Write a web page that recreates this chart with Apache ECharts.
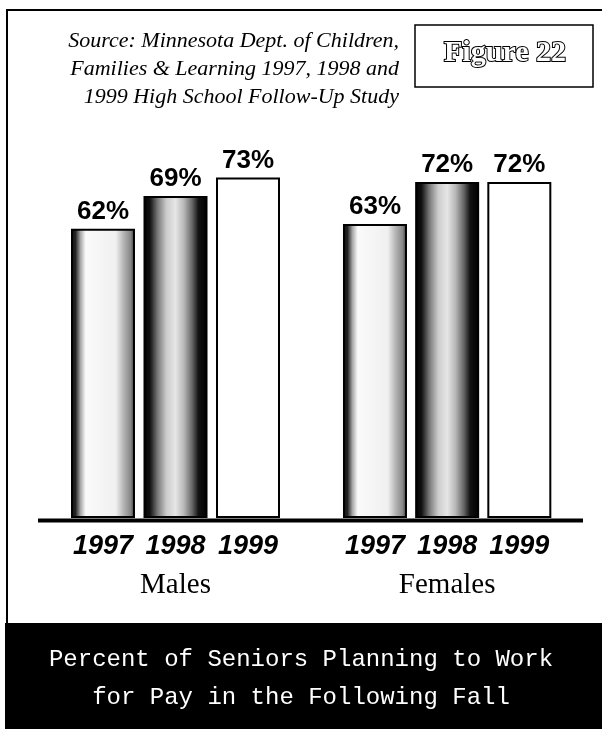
<!DOCTYPE html>
<html>
<head>
<meta charset="utf-8">
<script src="https://cdn.jsdelivr.net/npm/echarts@6/dist/echarts.min.js"></script>
<style>
    html, body { margin: 0; padding: 0; background: #fff; }
    #chart { width: 602px; height: 729px; }
</style>
</head>
<body>
<div id="chart"></div>
<script>
var years = ['1997', '1998', '1999'];
var groups = ['Males', 'Females'];
var males = [62, 69, 73];
var females = [63, 72, 72];
var sourceLines = [
    'Source: Minnesota Dept. of Children,',
    'Families & Learning 1997, 1998 and',
    '1999 High School Follow-Up Study'
];
var figureLabel = 'Figure 22';
var caption = 'Percent of Seniors Planning to Work\nfor Pay in the Following Fall';

// stippled print fills: light, dark, plain white
var fills = [
    new echarts.graphic.LinearGradient(0, 0, 1, 0, [
        {offset: 0, color: '#111'}, {offset: 0.07, color: '#222'},
        {offset: 0.15, color: '#aaa'}, {offset: 0.23, color: '#fafafa'},
        {offset: 0.7, color: '#f0f0f0'}, {offset: 0.82, color: '#b5b5b5'},
        {offset: 0.93, color: '#888'}, {offset: 1, color: '#333'}
    ]),
    new echarts.graphic.LinearGradient(0, 0, 1, 0, [
        {offset: 0, color: '#000'}, {offset: 0.1, color: '#111'},
        {offset: 0.22, color: '#777'}, {offset: 0.36, color: '#ccc'},
        {offset: 0.5, color: '#e6e6e6'}, {offset: 0.63, color: '#b8b8b8'},
        {offset: 0.76, color: '#666'}, {offset: 0.86, color: '#111'},
        {offset: 1, color: '#000'}
    ]),
    '#fff'
];

var barData = function (values) {
    return values.map(function (v, i) {
        return {value: v, itemStyle: {color: fills[i]}};
    });
};

var xAxisFor = function (idx) {
    return {
        type: 'category',
        gridIndex: idx,
        data: years,
        axisLine: {show: false},
        axisTick: {show: false},
        axisLabel: {
            interval: 0,
            margin: 15,
            color: '#000',
            fontFamily: 'Liberation Sans',
            fontWeight: 'bold',
            fontStyle: 'italic',
            fontSize: 27
        },
        name: groups[idx],
        nameLocation: 'middle',
        nameGap: 53,
        nameTextStyle: {
            color: '#000',
            fontFamily: 'Liberation Serif',
            fontSize: 29
        }
    };
};

var yAxisFor = function (idx) {
    return {type: 'value', gridIndex: idx, min: 0, max: 100, show: false};
};

var seriesFor = function (idx, values) {
    return {
        type: 'bar',
        xAxisIndex: idx,
        yAxisIndex: idx,
        barWidth: 64,
        data: barData(values),
        itemStyle: {borderColor: '#000', borderWidth: 2},
        label: {
            show: true,
            position: 'top',
            distance: 4,
            formatter: '{c}%',
            color: '#000',
            fontFamily: 'Liberation Sans',
            fontWeight: 'bold',
            fontSize: 26
        }
    };
};

var drawChart = function () {
    var box = echarts.init(document.getElementById('chart'));
    var option = {
        animation: false,
        backgroundColor: '#fff',
        title: {
            text: caption,
            left: 'center',
            top: 641,
            padding: 0,
            textStyle: {
                color: '#fff',
                fontFamily: 'Liberation Mono',
                fontWeight: 'normal',
                fontSize: 24,
                lineHeight: 38
            }
        },
        grid: [
            {left: 66.75, width: 217.5, top: 51.5, bottom: 211},
            {left: 338.9, width: 216.5, top: 51.5, bottom: 211}
        ],
        xAxis: [xAxisFor(0), xAxisFor(1)],
        yAxis: [yAxisFor(0), yAxisFor(1)],
        series: [seriesFor(0, males), seriesFor(1, females)],
        graphic: [
            // frame
            {type: 'line', shape: {x1: 7, y1: 10, x2: 7, y2: 624}, style: {stroke: '#000', lineWidth: 2}},
            {type: 'line', shape: {x1: 6, y1: 10, x2: 602, y2: 10}, style: {stroke: '#000', lineWidth: 2}},
            // caption band
            {type: 'rect', shape: {x: 5, y: 623, width: 597, height: 106}, style: {fill: '#000'}},
            // baseline
            {type: 'rect', shape: {x: 38, y: 518.5, width: 545, height: 4}, style: {fill: '#000'}, z: 10},
            // source note
            {type: 'text', x: 399, y: 41, style: {text: sourceLines[0], align: 'right', verticalAlign: 'middle', fill: '#000', font: 'italic 22px "Liberation Serif"'}},
            {type: 'text', x: 399, y: 69, style: {text: sourceLines[1], align: 'right', verticalAlign: 'middle', fill: '#000', font: 'italic 22px "Liberation Serif"'}},
            {type: 'text', x: 399, y: 97, style: {text: sourceLines[2], align: 'right', verticalAlign: 'middle', fill: '#000', font: 'italic 22px "Liberation Serif"'}},
            // figure box
            {type: 'rect', shape: {x: 415, y: 25, width: 178, height: 62}, style: {fill: 'none', stroke: '#000', lineWidth: 1.5}},
            {type: 'text', x: 505, y: 53, style: {
                text: figureLabel, align: 'center', verticalAlign: 'middle',
                fill: '#fff', stroke: '#000', lineWidth: 2,
                font: 'bold 30px "Liberation Serif"'
            }}
        ]
    };
    box.setOption(option);
};

drawChart();
</script>
</body>
</html>
